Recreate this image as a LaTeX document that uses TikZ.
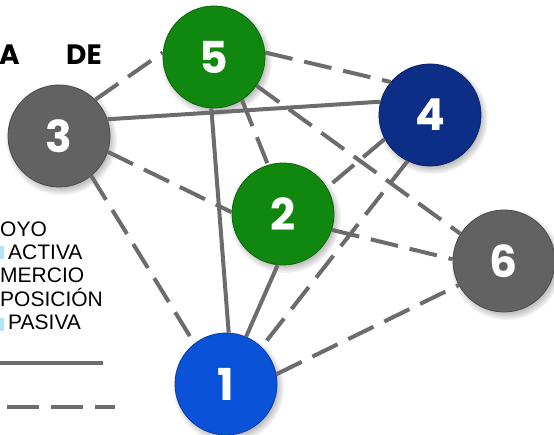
\documentclass[tikz,border=0pt]{standalone}
\usepackage{fontspec}
\setmainfont{Liberation Sans}
\newfontfamily\ballfont{Poppins}
\usetikzlibrary{shadows}
\definecolor{edgegray}{RGB}{108,108,108}
\definecolor{ballgreen}{RGB}{16,136,16}
\definecolor{ballnavy}{RGB}{12,46,135}
\definecolor{ballblue}{RGB}{10,82,215}
\definecolor{ballgray}{RGB}{98,98,98}
\definecolor{markcyan}{RGB}{180,228,245}

\begin{document}
\begin{tikzpicture}[x=1pt, y=-1pt,
    ball/.style={circle, minimum size=102pt, inner sep=0pt, fill=#1, draw=#1!75!black, line width=0.8pt,
        text=white, font=\ballfont\bfseries\fontsize{44}{44}\selectfont,
        circular drop shadow={shadow xshift=2pt, shadow yshift=-3pt, opacity=0.5}},
    link/.style={draw=edgegray, line width=4pt},
    dlink/.style={link, dash pattern=on 28pt off 12pt},
    headtext/.style={inner sep=0pt, anchor=base west, font=\ballfont\bfseries\fontsize{28}{28}\selectfont},
    legtext/.style={inner sep=0pt, anchor=base west, font=\fontsize{21}{21}\selectfont}]
    \useasboundingbox (0,0) rectangle (554,435);
    \foreach \n/\x/\y/\c in {1/226/384/ballblue, 2/283/214/ballgreen, 3/59/136/ballgray,
        4/430/115/ballnavy, 5/214/57/ballgreen, 6/504/261/ballgray} {\node[ball=\c] (n\n) at (\x,\y) {\n};}
    \foreach \a/\b in {n3.19/n4.165, n5.-93/n1.87, n2.264/n1.67} {\draw[link] (\a) -- (\b);}
    \foreach \a/\b in {n3.45/n5.175, n3.-18/n2.178, n3.-51/n1.128, n5.5/n4.140, n5.-57/n2.107,
        n5.-34/n6.148, n4.208/n2.31, n4.244/n1.46, n2.-18/n6.178, n1.11/n6.208} {\draw[dlink] (\a) -- (\b);}
    \node[headtext] (titleA) at (-1,65) {A};
    \node[headtext] (titleDE) at (66,65) {DE};
    \foreach \t/\x/\y [count=\i] in {OYO/0/237, ACTIVA/8/260, MERCIO/0/283, POSICIÓN/0/307, PASIVA/8/330}
        {\node[legtext] (leg\i) at (\x,\y) {\t};}
    \fill[markcyan] (0,246) rectangle (4,259) (0,318) rectangle (4,331);
    \coordinate (solidA) at (0,363); \coordinate (solidB) at (103,363);
    \coordinate (dashA) at (7,407); \coordinate (dashB) at (115,407);
    \draw[link] (solidA) -- (solidB);
    \draw[link, dash pattern=on 32pt off 12pt] (dashA) -- (dashB);
\end{tikzpicture}
\end{document}
